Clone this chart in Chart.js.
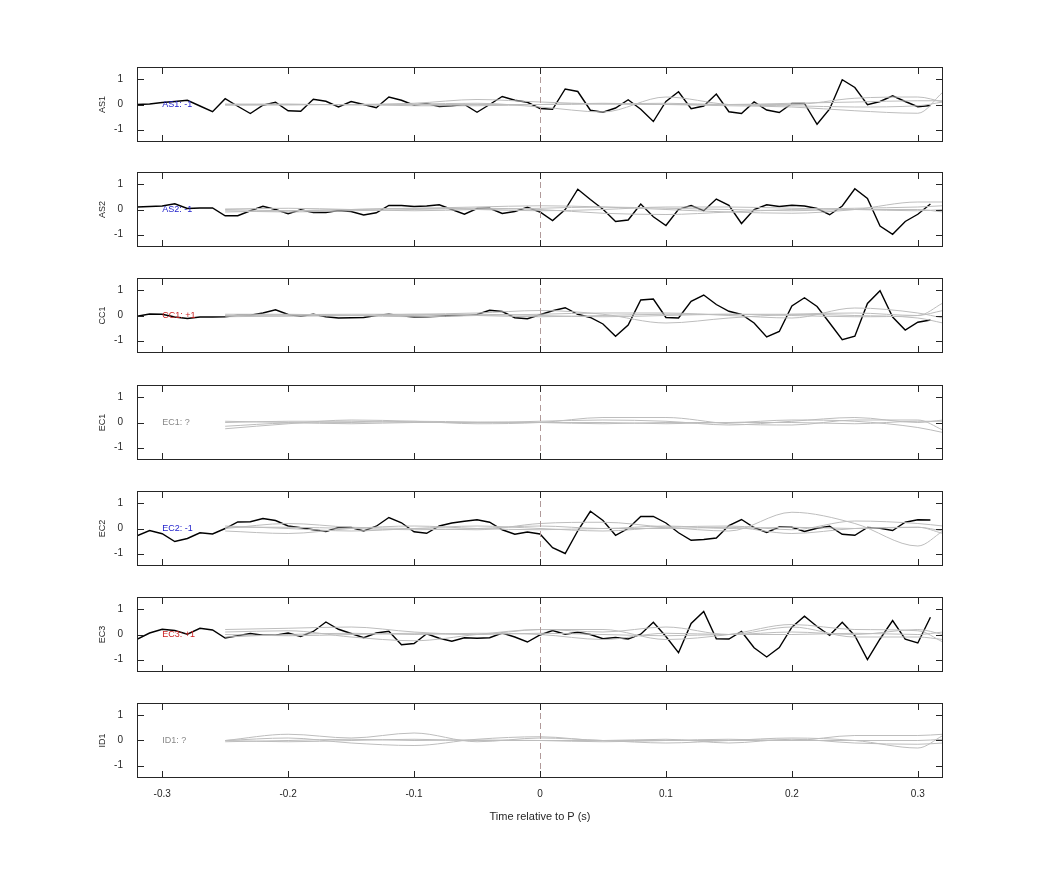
<!DOCTYPE html>
<html><head><meta charset="utf-8">
<script src="https://cdn.jsdelivr.net/npm/chart.js@4"></script>
<style>body{margin:0;background:#fff;width:1042px;height:875px;position:relative;overflow:hidden}
.p{position:absolute;left:0;width:1042px}</style></head><body>
<script>
const channels=['AS1','AS2','CC1','EC1','EC2','EC3','ID1'];
const labels=['AS1: -1','AS2: -1','CC1: +1','EC1: ?','EC2: -1','EC3: +1','ID1: ?'];
const labelColors=['#2222cc','#2222cc','#cc2222','#888888','#2222cc','#cc2222','#888888'];
const sampleTimes=[-0.32,-0.31,-0.30,-0.29,-0.28,-0.27,-0.26,-0.25,-0.24,-0.23,-0.22,-0.21,-0.20,-0.19,-0.18,-0.17,-0.16,-0.15,-0.14,-0.13,-0.12,-0.11,-0.10,-0.09,-0.08,-0.07,-0.06,-0.05,-0.04,-0.03,-0.02,-0.01,0.00,0.01,0.02,0.03,0.04,0.05,0.06,0.07,0.08,0.09,0.10,0.11,0.12,0.13,0.14,0.15,0.16,0.17,0.18,0.19,0.20,0.21,0.22,0.23,0.24,0.25,0.26,0.27,0.28,0.29,0.30,0.31];
const AS1=[0,0.02,0.08,0.12,0.17,-0.06,-0.29,0.23,-0.07,-0.36,-0.03,0.09,-0.25,-0.27,0.21,0.13,-0.1,0.12,0.0,-0.13,0.3,0.17,-0.03,0.04,-0.08,-0.05,0.0,-0.31,0.0,0.32,0.17,0.09,-0.16,-0.19,0.62,0.52,-0.23,-0.31,-0.14,0.19,-0.19,-0.68,0.12,0.51,-0.17,-0.06,0.42,-0.29,-0.36,0.1,-0.22,-0.32,0.04,0.04,-0.79,-0.18,0.99,0.68,-0.01,0.12,0.35,0.12,-0.09,-0.04];
const AS2=[0.1,0.12,0.14,0.23,0.04,0.06,0.06,-0.25,-0.25,-0.05,0.13,0,-0.17,-0.01,-0.12,-0.12,-0.04,-0.08,-0.22,-0.13,0.16,0.16,0.12,0.14,0.19,0,-0.19,0.04,0.05,-0.16,-0.08,0.09,-0.1,-0.44,0,0.81,0.4,0.01,-0.48,-0.42,0.22,-0.29,-0.64,0.01,0.16,-0.05,0.42,0.17,-0.56,0,0.19,0.12,0.17,0.14,0.04,-0.21,0.14,0.83,0.44,-0.66,-0.99,-0.48,-0.19,0.22];
const CC1=[-0.03,0.06,0.05,-0.06,-0.12,-0.06,-0.06,-0.05,0.01,0.01,0.1,0.23,0.04,-0.03,0.05,-0.05,-0.1,-0.09,-0.08,0,0.05,-0.01,-0.06,-0.05,-0.03,0,0.01,0.04,0.21,0.16,-0.09,-0.13,0.03,0.19,0.31,0.05,-0.08,-0.34,-0.83,-0.38,0.62,0.66,-0.08,-0.1,0.57,0.82,0.44,0.17,0.04,-0.3,-0.86,-0.64,0.38,0.71,0.36,-0.3,-0.97,-0.83,0.48,0.99,-0.06,-0.58,-0.27,-0.18];
const EC1=null;
const EC2=[-0.29,-0.08,-0.21,-0.52,-0.4,-0.17,-0.22,0,0.26,0.27,0.4,0.32,0.1,0.03,-0.05,-0.12,0.04,0.04,-0.1,0.09,0.44,0.23,-0.13,-0.19,0.1,0.22,0.29,0.35,0.25,-0.05,-0.23,-0.14,-0.22,-0.77,-1.0,-0.09,0.69,0.32,-0.27,0,0.48,0.48,0.22,-0.17,-0.47,-0.44,-0.38,0.12,0.36,0.04,-0.16,0.06,0.05,-0.12,0.01,0.09,-0.23,-0.27,0.04,0.01,-0.08,0.25,0.35,0.34];
const EC3=[-0.19,0.06,0.21,0.16,0.01,0.25,0.18,-0.14,-0.05,0.04,-0.03,-0.03,0.06,-0.08,0.12,0.5,0.21,0.04,-0.13,0.06,0.13,-0.41,-0.36,0.03,-0.15,-0.27,-0.13,-0.15,-0.13,0.06,-0.1,-0.3,-0.02,0.16,0.01,0.09,0,-0.17,-0.12,-0.18,0.01,0.49,-0.08,-0.73,0.44,0.92,-0.17,-0.18,0.12,-0.53,-0.9,-0.52,0.29,0.73,0.32,-0.03,0.49,-0.05,-1.0,-0.18,0.56,-0.19,-0.34,0.69];
const ID1=null;
const blackSeries=[AS1,AS2,CC1,EC1,EC2,EC3,ID1];
const grayTimes=[-0.25,-0.2,-0.15,-0.1,-0.05,0,0.05,0.1,0.15,0.2,0.25,0.3,0.32];
const graySeries=[
 [[0,0,0,0.02,0.05,-0.1,-0.3,0.3,0,-0.05,-0.1,-0.05,0.1],[0.02,0,0,0.05,0.2,0.1,0.02,0,0,0,0.25,0.3,0.1],[-0.03,-0.02,0,-0.05,-0.05,0,0.05,0,-0.05,-0.1,-0.25,-0.35,0.5],[0,0.02,-0.02,0,0,0,0.02,0.05,0,0.05,0.1,0.15,0.15]],
 [[0,-0.05,0,0.05,0.1,0.15,0.1,0,-0.1,-0.15,0,0.3,0.3],[-0.05,-0.1,-0.05,0,0.05,0,-0.15,-0.2,-0.1,0,0.05,0.1,0.15],[0.02,0.05,0,-0.05,0,0.05,0.1,0.05,0,-0.05,0,0,-0.1],[-0.1,-0.05,0,0.05,0,-0.05,0,0.1,0.1,0.05,0,-0.05,0]],
 [[0,-0.02,0,0.05,0.1,0.2,0.05,-0.3,-0.1,0.05,0.1,0,0.5],[0.05,0.05,0,-0.05,0,0.05,0.1,0.1,0,-0.1,0.3,0.1,-0.1],[-0.05,-0.02,0,0,0.05,0,-0.05,0,0.05,0.05,0,-0.1,-0.3],[0,0.03,0.05,0.05,0,-0.05,0,0.05,0.05,0,-0.05,0,0.2]],
 [[-0.25,-0.05,0.1,0.05,-0.05,0,0.2,0.2,-0.05,-0.1,0.1,0.1,-0.3],[0,0.05,0.05,0,0,0.05,0.1,0.05,-0.1,0.05,0.2,0,0.1],[-0.15,-0.02,0,0.05,0.02,0,-0.05,0,0,0.1,0.05,-0.2,-0.4],[0.05,0,-0.05,0,0,0,0,-0.05,0,0,-0.05,0.05,0.05]],
 [[0,0.2,0.05,0,-0.05,0.2,0.25,0.05,-0.1,0.65,0.2,-0.7,-0.1],[0.1,0,-0.1,0,0.1,0,-0.1,0.05,0.1,-0.05,0.3,0.2,0.1],[-0.1,-0.2,0,0.1,0,-0.05,0,0,0.05,-0.2,0,0.05,-0.1],[0.05,0.05,0,-0.05,0,0.1,0,0.1,0,0.05,0,0.05,-0.2]],
 [[0.2,0.25,0.3,0.1,0,0.2,0.2,-0.2,0,0.4,0.2,0.15,-0.3],[0.1,0.15,-0.1,-0.25,0,0.2,0.1,0.3,0,0.1,0,0.2,0],[-0.1,0,0.05,0,0.05,0,-0.2,0.05,0,0.3,-0.1,-0.1,-0.2],[0,-0.05,0,0.05,0,0.05,0,-0.05,0,0,0.05,0,0.1]],
 [[0,0.25,0.1,0.3,-0.05,0.1,0,-0.1,0,0.1,0,-0.3,0.2],[0,0.1,-0.1,-0.2,0.05,0.15,0,0.05,-0.1,0.05,-0.1,-0.15,-0.1],[-0.05,0,0.05,0,0.02,0,-0.05,0,0.05,0,0.2,0.2,0.25],[0,-0.05,0,0.05,0,0,0,0,0,0,0,0,0.05]]
];
const xTicks=[-0.3,-0.2,-0.1,0,0.1,0.2,0.3];
const yTicks=[-1,0,1];
const panelTops=[67,172,278,385,491,597,703];
const PH=75, L=137, R=943;
const FONT="'Liberation Sans', Arial, sans-serif";

const framePlugin={id:'frame',afterDatasetsDraw(ch,args,opts){
  const c=ch.ctx,a=ch.chartArea,xs=ch.scales.x,ys=ch.scales.y;
  c.save();
  c.strokeStyle='#b09a9a';c.lineWidth=1;c.setLineDash([6,4]);
  const x0=Math.round(xs.getPixelForValue(0))+0.5;
  c.beginPath();c.moveTo(x0,a.top);c.lineTo(x0,a.bottom);c.stroke();
  c.setLineDash([]);
  c.strokeStyle='#262626';c.lineWidth=1;
  c.strokeRect(a.left+0.5,a.top+0.5,a.right-a.left-1,a.bottom-a.top-1);
  c.beginPath();
  xTicks.forEach(v=>{const x=Math.round(xs.getPixelForValue(v))+0.5;c.moveTo(x,a.top);c.lineTo(x,a.top+7);c.moveTo(x,a.bottom);c.lineTo(x,a.bottom-7);});
  yTicks.forEach(v=>{const y=Math.round(ys.getPixelForValue(v))+0.5;c.moveTo(a.left,y);c.lineTo(a.left+7,y);c.moveTo(a.right,y);c.lineTo(a.right-7,y);});
  c.stroke();
  c.font='9px '+FONT;c.fillStyle=opts.color;c.textBaseline='middle';c.textAlign='left';
  c.fillText(opts.text,xs.getPixelForValue(-0.3),ys.getPixelForValue(0));
  // channel name (y-axis title)
  c.fillStyle='#262626';c.font='9px '+FONT;c.textAlign='center';
  c.translate(103,(a.top+a.bottom)/2);c.rotate(-Math.PI/2);c.fillText(opts.name,0,0);
  c.restore();
}};

channels.forEach((ch,i)=>{
  const last=i===channels.length-1;
  const topPad=8, botH=last?52:8;
  const div=document.createElement('div');div.className='p';
  let top=panelTops[i]-topPad, h=PH+topPad+botH;
  div.style.top=top+'px';div.style.height=h+'px';
  const cv=document.createElement('canvas');div.appendChild(cv);document.body.appendChild(div);
  const ds=[];
  graySeries[i].forEach(g=>ds.push({data:grayTimes.map((t,k)=>({x:t,y:g[k]})),borderColor:'#bdbdbd',borderWidth:1,pointRadius:0,tension:0.4,cubicInterpolationMode:'monotone'}));
  if(blackSeries[i]) ds.push({data:sampleTimes.map((t,k)=>({x:t,y:blackSeries[i][k]})),borderColor:'#000',borderWidth:1.4,pointRadius:0,tension:0});
  const chart=new Chart(cv,{type:'line',data:{datasets:ds},plugins:[framePlugin],options:{
    responsive:true,maintainAspectRatio:false,animation:false,
    layout:{padding:{left:0,right:1042-R,top:0,bottom:0}},
    plugins:{legend:{display:false},tooltip:{enabled:false},frame:{text:labels[i],color:labelColors[i],name:ch}},
    scales:{
      x:{type:'linear',min:-0.32,max:0.32,grid:{display:false},border:{display:false},
        afterBuildTicks(s){s.ticks=xTicks.map(v=>({value:v}));},
        ticks:{display:last,autoSkip:false,maxRotation:0,padding:2,color:'#262626',font:{family:FONT,size:10},callback:v=>String(Math.round(v*10)/10)},
        title:{display:last,text:'Time relative to P (s)',color:'#262626',font:{family:FONT,size:11},padding:{top:8}}},
      y:{min:-1.5,max:1.5,grid:{display:false},border:{display:false},
        afterBuildTicks(s){s.ticks=yTicks.map(v=>({value:v}));},
        afterFit(s){s.width=L;},
        ticks:{color:'#262626',padding:6,font:{family:FONT,size:10}},
        title:{display:false}}
    }}});
  // align the chart area to the intended panel box
  for(let it=0;it<3;it++){
    const a=chart.chartArea;
    const dTop=panelTops[i]-(top+a.top);
    const dH=PH-(a.bottom-a.top);
    if(Math.abs(dTop)<0.5&&Math.abs(dH)<0.5)break;
    top+=dTop;h+=dH;
    div.style.top=top+'px';div.style.height=h+'px';
    chart.resize();
  }
});
</script></body></html>
